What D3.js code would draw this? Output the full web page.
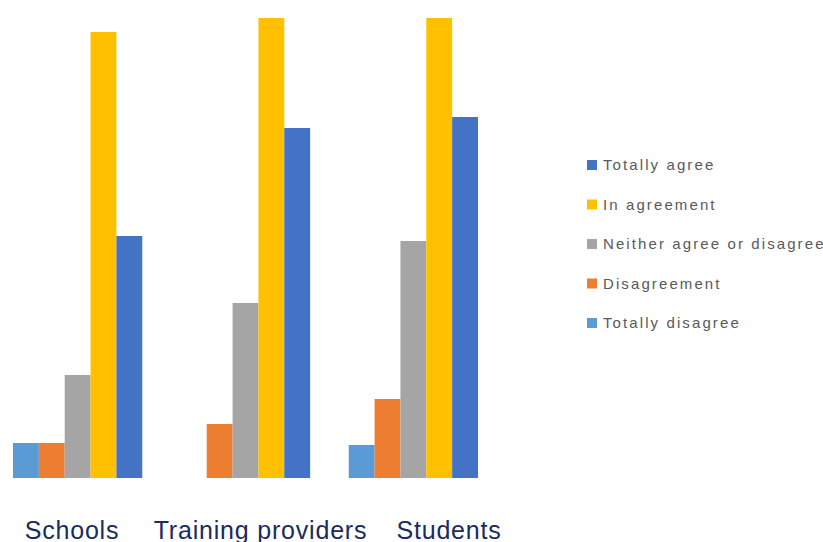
<!DOCTYPE html>
<html>
<head>
<meta charset="utf-8">
<script src="https://cdn.jsdelivr.net/npm/d3@7"></script>
<style>
  html, body { margin: 0; padding: 0; background: #fff; }
  svg { display: block; }
</style>
</head>
<body>
<div id="chart"></div>
<script>
// groups along the x axis
var groups = ["Schools", "Training providers", "Students"];
// series, in drawing order inside each group
var series = ["Totally disagree", "Disagreement", "Neither agree or disagree", "In agreement", "Totally agree"];
var colors = ["#5B9BD5", "#ED7D31", "#A5A5A5", "#FFC000", "#4472C4"];
// legend order (top to bottom)
var legendOrder = ["Totally agree", "In agreement", "Neither agree or disagree", "Disagreement", "Totally disagree"];
// values, one array per series (Schools, Training providers, Students)
var totallyDisagree = [3.5, 0, 3.3];
var disagreement = [3.5, 5.4, 7.9];
var neither = [10.3, 17.5, 23.7];
var inAgreement = [44.6, 46.0, 46.0];
var totallyAgree = [24.2, 35.0, 36.1];

var values = [totallyDisagree, disagreement, neither, inAgreement, totallyAgree];

var width = 823, height = 542;

var svg = d3.select("#chart")
  .append("svg")
    .attr("width", width)
    .attr("height", height);

// scales
var x0 = d3.scaleBand()
    .domain(groups)
    .range([13, 478])
    .paddingInner(0.23)
    .paddingOuter(0);

var x1 = d3.scaleBand()
    .domain(series)
    .range([0, x0.bandwidth()])
    .padding(0);

var y = d3.scaleLinear()
    .domain([0, 47.8])
    .range([478, 0]);

var color = d3.scaleOrdinal().domain(series).range(colors);

// flatten into rows for the bars
var rows = [];
groups.forEach(function (g, gi) {
  series.forEach(function (s, si) {
    rows.push({ group: g, series: s, value: values[si][gi] });
  });
});

svg.append("g")
  .selectAll("rect")
  .data(rows.filter(function (d) { return d.value > 0; }))
  .enter().append("rect")
    .attr("x", function (d) { return x0(d.group) + x1(d.series); })
    .attr("y", function (d) { return y(d.value); })
    .attr("width", x1.bandwidth())
    .attr("height", function (d) { return y(0) - y(d.value); })
    .attr("fill", function (d) { return color(d.series); });

// category labels sit a bit wider apart than the bar groups
var xLabel = d3.scalePoint()
    .domain(groups)
    .range([71.5, 448.5]);

var xAxis = d3.axisBottom(xLabel).tickSize(0).tickPadding(0);

var axisG = svg.append("g")
    .attr("transform", "translate(0,539)")
    .call(xAxis);
axisG.select(".domain").remove();
axisG.selectAll("text")
    .attr("dy", 0)
    .attr("y", 0)
    .style("font-family", "'Liberation Sans', Arial, sans-serif")
    .style("font-size", "25px")
    .style("letter-spacing", "0.8px")
    .style("fill", "#1a2b5c");

// legend
var legend = svg.append("g")
    .selectAll("g")
    .data(legendOrder)
    .enter().append("g")
      .attr("transform", function (d, i) { return "translate(587," + (165 + i * 39.5) + ")"; });

legend.append("rect")
    .attr("x", 0)
    .attr("y", -5)
    .attr("width", 10)
    .attr("height", 10)
    .attr("fill", function (d) { return color(d); });

legend.append("text")
    .attr("x", 16)
    .attr("dy", "0.35em")
    .style("font-family", "'Liberation Sans', Arial, sans-serif")
    .style("font-size", "15px")
    .style("letter-spacing", "2.1px")
    .style("fill", "#595959")
    .text(function (d) { return d; });
</script>
</body>
</html>
